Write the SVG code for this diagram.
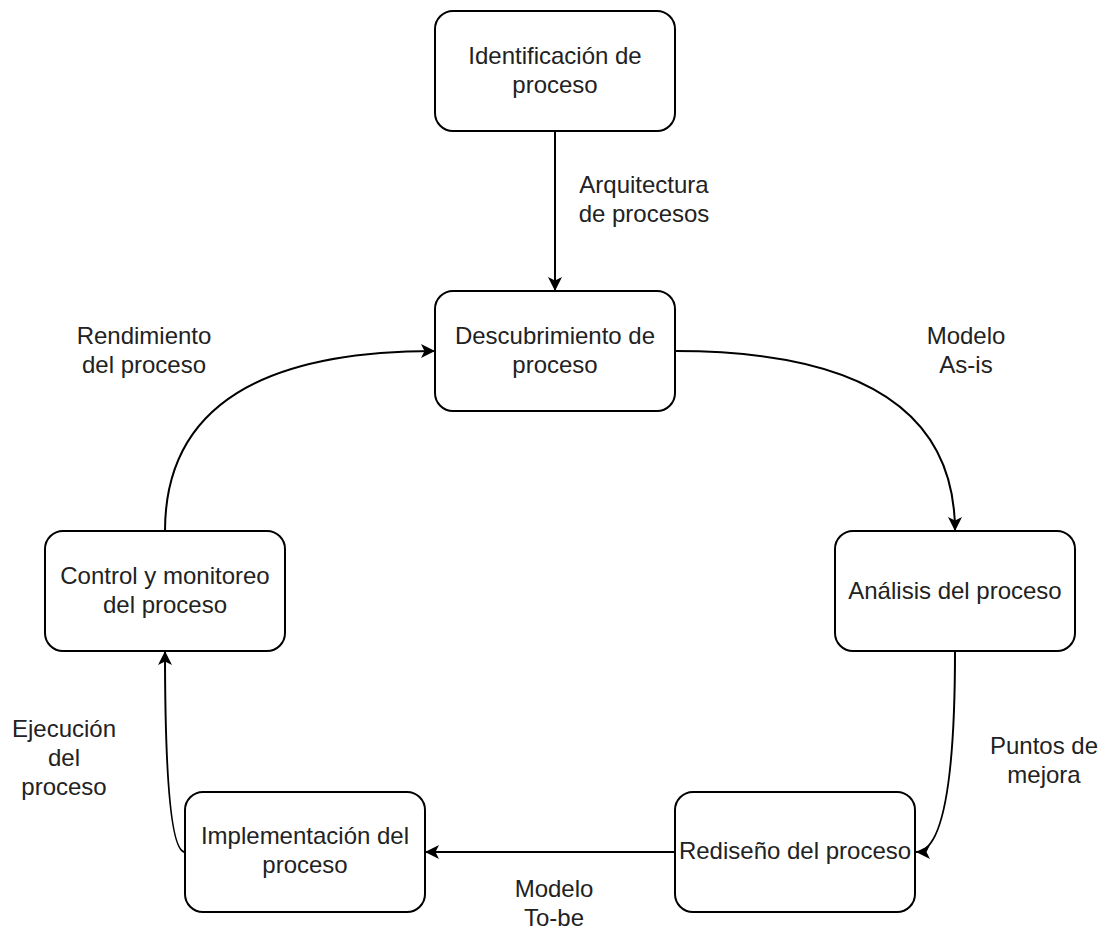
<svg xmlns="http://www.w3.org/2000/svg" width="1101" height="947" viewBox="0 0 1101 947">
  <style>
    .node rect { fill: #ffffff; stroke: #000000; stroke-width: 2; }
    .node text, .label text { font-family: "Liberation Sans", Arial, Helvetica, sans-serif; font-size: 24px; fill: #222222; text-anchor: middle; }
    .edge { fill: none; stroke: #000000; stroke-width: 2; marker-end: url(#arrow); }
  </style>
  <defs>
    <marker id="arrow" markerUnits="userSpaceOnUse" markerWidth="16" markerHeight="16" refX="14" refY="7" orient="auto" viewBox="0 0 16 16">
      <path d="M0,0 L14,7 L0,14 L3.5,7 Z" fill="#000000"/>
    </marker>
  </defs>
  <rect width="1101" height="947" fill="#ffffff"/>

  <!-- connectors -->
  <g id="connectors">
    <path class="edge" d="M555,131 L555,291"/>
    <path class="edge" d="M675,351 Q955,351 955,531"/>
    <path class="edge" d="M955,651 Q955,852 916,852"/>
    <path class="edge" d="M675,852 L425,852"/>
    <path class="edge" d="M185,852 Q165,852 165,651"/>
    <path class="edge" d="M165,531 Q165,351 435,351"/>
  </g>

  <!-- connector labels -->
  <g class="label" id="label-arquitectura">
    <text x="644" y="193">Arquitectura</text>
    <text x="644" y="222">de procesos</text>
  </g>
  <g class="label" id="label-asis">
    <text x="966" y="344">Modelo</text>
    <text x="966" y="373">As-is</text>
  </g>
  <g class="label" id="label-mejora">
    <text x="1044" y="754">Puntos de</text>
    <text x="1044" y="783">mejora</text>
  </g>
  <g class="label" id="label-tobe">
    <text x="554" y="897">Modelo</text>
    <text x="554" y="926">To-be</text>
  </g>
  <g class="label" id="label-ejecucion">
    <text x="64" y="737">Ejecución</text>
    <text x="64" y="766">del</text>
    <text x="64" y="795">proceso</text>
  </g>
  <g class="label" id="label-rendimiento">
    <text x="144" y="344">Rendimiento</text>
    <text x="144" y="373">del proceso</text>
  </g>

  <!-- nodes -->
  <g class="node" id="identificacion">
    <rect x="435" y="11" width="240" height="120" rx="18" ry="18"/>
    <text x="555" y="64">Identificación de</text>
    <text x="555" y="93">proceso</text>
  </g>
  <g class="node" id="descubrimiento">
    <rect x="435" y="291" width="240" height="120" rx="18" ry="18"/>
    <text x="555" y="344">Descubrimiento de</text>
    <text x="555" y="373">proceso</text>
  </g>
  <g class="node" id="analisis">
    <rect x="835" y="531" width="240" height="120" rx="18" ry="18"/>
    <text x="955" y="599">Análisis del proceso</text>
  </g>
  <g class="node" id="rediseno">
    <rect x="675" y="792" width="240" height="120" rx="18" ry="18"/>
    <text x="795" y="859">Rediseño del proceso</text>
  </g>
  <g class="node" id="implementacion">
    <rect x="185" y="792" width="240" height="120" rx="18" ry="18"/>
    <text x="305" y="844">Implementación del</text>
    <text x="305" y="873">proceso</text>
  </g>
  <g class="node" id="control">
    <rect x="45" y="531" width="240" height="120" rx="18" ry="18"/>
    <text x="165" y="584">Control y monitoreo</text>
    <text x="165" y="613">del proceso</text>
  </g>
</svg>
